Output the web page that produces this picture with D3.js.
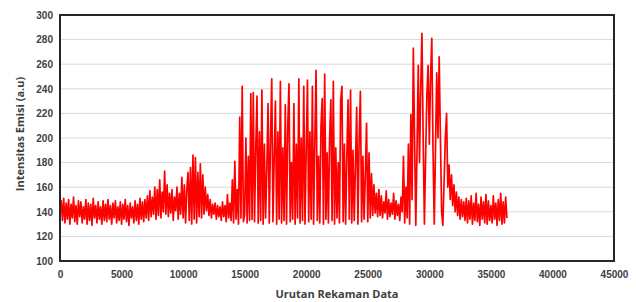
<!DOCTYPE html>
<html>
<head>
<meta charset="utf-8">
<script src="https://cdn.jsdelivr.net/npm/d3@7"></script>
<style>
  body { margin: 0; background: #fff; }
  svg { display: block; font-family: "Open Sans", "Liberation Sans", sans-serif; }
</style>
</head>
<body>
<div id="chart"></div>
<script>
// Data: one value every 100 records, starting at record 0
const langkah = 100;
const intensitas = [
  140,149,133,151,131,147,134,150,130,146,
  135,152,132,145,130,149,136,148,131,144,
  134,150,130,147,133,146,129,151,135,145,
  131,148,134,144,130,149,133,146,132,150,
  134,145,130,147,135,149,131,144,133,148,
  130,146,134,150,132,145,129,147,135,144,
  131,149,133,146,130,151,134,148,132,150,
  135,153,133,157,136,152,138,160,134,158,
  137,166,135,156,140,173,138,162,136,155,
  139,158,133,152,141,160,134,155,138,168,
  135,162,131,158,172,133,176,130,186,134,
  184,131,172,136,179,135,170,138,160,141,
  154,137,150,135,146,138,147,134,145,136,
  144,133,148,136,145,132,154,135,147,133,
  166,131,181,134,158,130,217,135,242,132,
  138,200,131,185,133,236,134,237,132,190,
  234,131,205,133,239,130,195,135,175,228,
  131,200,248,132,185,230,130,205,134,246,
  131,192,133,227,130,210,244,132,180,134,
  228,130,195,135,248,131,200,133,242,130,
  190,247,132,205,134,242,130,198,255,133,
  185,131,210,232,130,252,134,188,131,200,
  231,133,246,130,192,135,180,131,231,242,
  132,195,130,185,231,134,239,131,190,133,
  178,225,130,200,238,132,185,134,170,212,
  132,188,135,171,137,162,139,155,136,158,
  137,153,135,148,139,157,134,150,136,147,
  138,155,134,149,137,146,133,152,140,185,
  131,160,135,195,130,219,150,273,200,129,
  190,259,180,240,285,200,130,185,235,259,
  195,250,281,190,130,190,253,200,266,200,
  140,129,165,200,220,160,178,150,170,145,
  162,140,156,137,152,134,150,136,148,133,
  151,131,149,134,153,130,147,133,155,132,
  146,129,152,134,148,131,154,130,149,133,
  145,131,153,134,147,129,150,133,155,130,
  148,131,152,135
];
const xTicks = [0, 5000, 10000, 15000, 20000, 25000, 30000, 35000, 40000, 45000];
const yTicks = [100, 120, 140, 160, 180, 200, 220, 240, 260, 280, 300];

const W = 636, H = 302;
const margin = { top: 15, right: 22, bottom: 41, left: 60 };
const width = W - margin.left - margin.right;
const height = H - margin.top - margin.bottom;

const svg = d3.select("#chart").append("svg")
    .attr("width", W)
    .attr("height", H);

const g = svg.append("g")
    .attr("transform", `translate(${margin.left},${margin.top})`);

const x = d3.scaleLinear().domain([0, 45000]).range([0, width]);
const y = d3.scaleLinear().domain([100, 300]).range([height, 0]);

// horizontal gridlines
g.append("g")
  .selectAll("line")
  .data(yTicks.slice(1, -1))
  .join("line")
    .attr("x1", 0).attr("x2", width)
    .attr("y1", d => y(d)).attr("y2", d => y(d))
    .attr("stroke", "#d9d9d9")
    .attr("stroke-width", 1);

// the signal
const line = d3.line()
    .x((d, i) => x(i * langkah))
    .y(d => y(d));

g.append("path")
    .datum(intensitas)
    .attr("fill", "none")
    .attr("stroke", "#ff0000")
    .attr("stroke-width", 1.7)
    .attr("stroke-linejoin", "round")
    .attr("d", line);

// frame
g.append("rect")
    .attr("x", 0).attr("y", 0)
    .attr("width", width).attr("height", height)
    .attr("fill", "none")
    .attr("stroke", "#262626")
    .attr("stroke-width", 2);

// axes (labels only)
const xAxis = g.append("g")
    .attr("transform", `translate(0,${height})`)
    .call(d3.axisBottom(x).tickValues(xTicks).tickFormat(d3.format("d")).tickSize(0).tickPadding(10));
const yAxis = g.append("g")
    .call(d3.axisLeft(y).tickValues(yTicks).tickSize(0).tickPadding(7));

[xAxis, yAxis].forEach(a => {
  a.select(".domain").remove();
  a.selectAll("text")
    .attr("fill", "#404040")
    .style("font-size", "10px")
    .style("font-weight", "bold");
});

// axis titles
svg.append("text")
    .attr("x", margin.left + width / 2)
    .attr("y", 298)
    .attr("text-anchor", "middle")
    .attr("fill", "#404040")
    .style("font-size", "11px")
    .style("font-weight", "bold")
    .text("Urutan Rekaman Data");

svg.append("text")
    .attr("transform", `translate(24,${margin.top + height / 2 - 4}) rotate(-90)`)
    .attr("text-anchor", "middle")
    .attr("fill", "#404040")
    .style("font-size", "11px")
    .style("font-weight", "bold")
    .text("Intensitas Emisi (a.u)");
</script>
</body>
</html>
